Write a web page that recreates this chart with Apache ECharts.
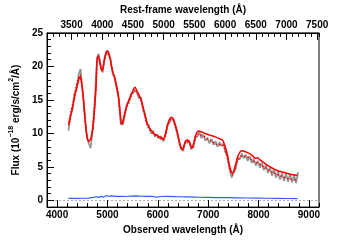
<!DOCTYPE html>
<html><head><meta charset="utf-8">
<script src="https://cdn.jsdelivr.net/npm/echarts@6/dist/echarts.min.js"></script>
<style>html,body{margin:0;padding:0;background:#fff}#c{width:355px;height:240px}</style>
</head><body><div id="c"></div>
<script>
// Model (solid red) and alternate model (dotted red)
const modelWave = [4229,4275,4325,4375,4425,4455,4485,4525,4565,4605,4635,4675,4715,4745,4775,4801,4835,4875,4896,4935,4975,5005,5045,5085,5152,5215,5255,5278,5305,5355,5415,5475,5545,5595,5660,5705,5755,5815,5883,5935,5979,6035,6106,6155,6205,6265,6315,6360,6395,6423,6455,6488,6525,6570,6615,6655,6679,6715,6755,6805,6875,6965,7055,7156,7225,7282,7325,7375,7410,7445,7475,7505,7545,7595,7664,7725,7824,7895,7935,7982,8035,8110,8205,8301,8395,8492,8625,8775];
const modelFlux = [11.2,12.8,14.6,16.4,17.9,18.5,17.6,15.0,11.4,9.1,8.9,9.4,11.2,13.8,17.3,21.6,21.2,19.6,19.4,20.8,22.0,22.3,21.5,19.8,18.0,15.8,12.8,11.5,11.8,13.4,14.8,15.8,16.9,16.2,15.2,14.0,12.4,11.0,10.35,9.9,9.7,9.5,9.2,10.0,11.6,12.4,12.0,11.0,9.9,9.0,8.0,7.65,8.3,9.0,8.9,8.2,7.9,8.6,9.8,10.35,10.2,9.9,9.7,9.45,9.2,9.0,8.3,7.0,5.6,4.6,4.05,4.3,5.4,6.7,7.4,7.3,6.97,6.55,6.3,6.35,6.0,5.6,5.1,4.7,4.4,4.2,3.9,3.7];
const model2Flux = [11.6,13.2,15.0,16.8,18.2,18.7,17.7,15.0,11.3,9.0,8.8,9.3,11.1,13.7,17.2,21.5,21.1,19.5,19.3,20.7,21.9,22.2,21.4,19.7,17.9,15.6,12.6,11.3,11.6,13.2,14.6,15.6,16.6,16.0,15.0,13.8,12.2,10.8,10.1,9.7,9.5,9.3,9.0,9.8,11.3,12.1,11.8,10.8,9.7,8.8,7.8,7.5,8.1,8.8,8.7,8.0,7.7,8.3,9.4,9.9,9.7,9.3,8.9,8.4,8.3,8.3,7.7,6.5,5.2,4.3,3.8,4.0,5.0,6.1,6.6,6.6,6.25,5.85,5.65,5.6,5.35,5.0,4.5,4.1,3.8,3.5,3.2,3.0];
// Observed spectrum (gray)
const dataWave = [4225,4265,4305,4345,4385,4425,4465,4505,4545,4585,4625,4665,4705,4745,4785,4825,4865,4905,4945,4985,5025,5065,5105,5145,5185,5225,5265,5305,5345,5385,5425,5465,5505,5545,5585,5625,5665,5705,5745,5785,5825,5865,5905,5945,5985,6025,6065,6105,6145,6185,6225,6265,6305,6345,6385,6425,6465,6505,6545,6585,6625,6665,6705,6745,6785,6825,6865,6905,6945,6985,7025,7065,7105,7145,7185,7225,7265,7305,7345,7385,7425,7465,7505,7545,7585,7625,7665,7705,7745,7785,7825,7865,7905,7945,7985,8025,8065,8105,8145,8185,8225,8265,8305,8345,8385,8425,8465,8505,8545,8585,8625,8665,8705,8745,8785];
const dataFlux = [10.4,12.7,13.5,15.9,16.5,18.7,19.6,16.4,13.0,9.8,8.6,7.8,10.4,14.6,20.0,21.9,20.2,19.1,21.5,22.4,21.6,21.0,18.8,18.5,16.6,15.0,11.4,11.3,12.7,14.4,14.5,15.9,16.0,16.4,16.1,15.2,15.4,13.5,13.0,11.3,11.2,10.0,10.4,9.5,9.9,9.2,9.6,8.8,9.5,11.2,11.6,12.0,12.3,11.0,10.0,8.6,7.6,7.4,8.9,8.6,8.8,7.6,8.0,9.6,9.5,10.2,9.3,9.8,8.9,9.3,8.5,9.2,8.3,8.8,8.0,8.7,8.1,8.5,7.1,6.6,4.6,3.4,4.3,4.7,6.3,6.1,7.0,6.3,6.8,5.9,6.6,5.6,6.2,5.2,5.9,4.9,5.6,4.5,5.3,4.1,4.9,3.7,4.6,3.4,4.3,3.1,4.1,2.9,4.0,2.8,3.9,2.7,3.8,2.6,4.2];
// Error spectrum (blue)
const errWave = [4225,4375,4525,4625,4725,4775,4825,4875,4925,4975,5025,5075,5175,5275,5375,5475,5575,5675,5775,5875,5975,6075,6175,6375,6575,6775,6975,7175,7375,7575,7775,7975,8175,8375,8575,8775];
const errFlux = [0.30,0.30,0.32,0.35,0.45,0.55,0.45,0.60,0.50,0.70,0.62,0.68,0.60,0.62,0.58,0.65,0.68,0.62,0.60,0.62,0.50,0.58,0.60,0.55,0.52,0.48,0.45,0.42,0.40,0.38,0.36,0.34,0.32,0.30,0.28,0.27];

const zip = (a, b) => a.map((v, i) => [v, b[i]]);
const FONT = 'Liberation Sans, Arial, sans-serif';
const lab = () => ({fontSize: 10, fontWeight: 'bold', color: '#000', fontFamily: FONT});
const fmt = v => String(Math.round(v));
const noLine = () => ({show: false, onZero: false});
const line = () => ({show: true, onZero: false, lineStyle: {color: '#000', width: 1}});
const major = () => ({show: true, inside: true, length: 7, lineStyle: {color: '#000', width: 1}});
const minor = () => ({show: true, inside: true, length: 4, lineStyle: {color: '#000', width: 1}});

const chart = echarts.init(document.getElementById('c'));
chart.setOption({
  animation: false,
  grid: {left: 36, right: 36, top: 23, bottom: 24, show: true, borderColor: '#000', borderWidth: 1, backgroundColor: 'transparent'},
  xAxis: [
    {type: 'value', position: 'bottom', min: 3800, max: 9200, splitNumber: 5, z: 10,
     axisLine: line(), axisTick: major(),
     axisLabel: Object.assign({margin: 3, showMinLabel: false, showMaxLabel: false, formatter: fmt}, lab()),
     splitLine: {show: false},
     name: 'Observed wavelength (Å)', nameLocation: 'middle', nameGap: 16,
     nameTextStyle: lab()},
    {type: 'value', position: 'bottom', min: 3800, max: 9200, interval: 200, z: 10,
     axisLine: noLine(), axisTick: minor(),
     axisLabel: {show: false}, splitLine: {show: false}},
    {type: 'value', position: 'top', min: 3100, max: 7530, splitNumber: 9, z: 10,
     axisLine: line(), axisTick: major(),
     axisLabel: Object.assign({margin: 3, showMinLabel: false, showMaxLabel: false, formatter: fmt}, lab()),
     splitLine: {show: false},
     name: 'Rest-frame wavelength (Å)', nameLocation: 'middle', nameGap: 15,
     nameTextStyle: lab()},
    {type: 'value', position: 'top', min: 3100, max: 7530, interval: 100, z: 10,
     axisLine: noLine(), axisTick: minor(),
     axisLabel: {show: false}, splitLine: {show: false}}
  ],
  yAxis: [
    {type: 'value', position: 'left', min: -1, max: 25, splitNumber: 5, z: 10,
     axisLine: line(), axisTick: major(),
     axisLabel: Object.assign({margin: 4, showMinLabel: false, formatter: fmt}, lab()),
     splitLine: {show: false},
     name: '{a|Flux (10}{s|−18}{a| erg/s/cm}{s|2}{a|/Å)}', nameLocation: 'middle', nameGap: 19, nameRotate: 90,
     nameTextStyle: {rich: {
       a: {fontSize: 10, fontWeight: 'bold', color: '#000', fontFamily: FONT, lineHeight: 13, verticalAlign: 'bottom'},
       s: {fontSize: 7, fontWeight: 'bold', color: '#000', fontFamily: FONT, lineHeight: 13, verticalAlign: 'top'}}}},
    {type: 'value', position: 'left', min: -1, max: 25, interval: 1, z: 10,
     axisLine: noLine(), axisTick: minor(),
     axisLabel: {show: false}, splitLine: {show: false}}
  ],
  series: [
    {type: 'line', name: 'data', xAxisIndex: 0, yAxisIndex: 0, data: zip(dataWave, dataFlux),
     showSymbol: false, symbol: 'none', lineStyle: {color: '#959595', width: 1.8},
     markLine: {silent: true, symbol: ['none', 'none'], label: {show: false},
       lineStyle: {color: '#9a9a9a', type: [2, 2], width: 0.8}, data: [{yAxis: 0}]}},
    {type: 'line', name: 'err', xAxisIndex: 0, yAxisIndex: 0, data: zip(errWave, errFlux),
     showSymbol: false, symbol: 'none', lineStyle: {color: '#2f62f0', width: 1.2}},
    {type: 'line', name: 'model2', xAxisIndex: 0, yAxisIndex: 0, data: zip(modelWave, model2Flux),
     showSymbol: false, symbol: 'none', smooth: 0.3, lineStyle: {color: '#ff0000', width: 1.5, type: [1.5, 2]}},
    {type: 'line', name: 'model', xAxisIndex: 0, yAxisIndex: 0, data: zip(modelWave, modelFlux),
     showSymbol: false, symbol: 'none', smooth: 0.3, lineStyle: {color: '#ff0000', width: 1.5}}
  ]
});
</script></body></html>
